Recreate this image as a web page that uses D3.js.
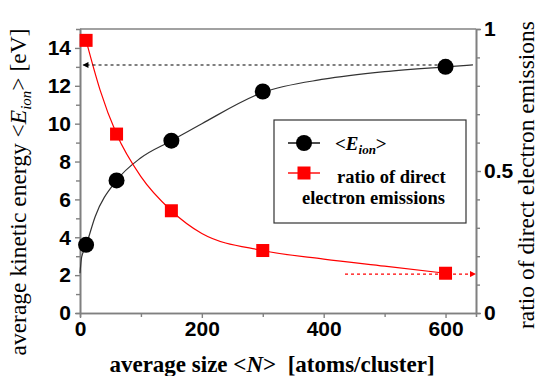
<!DOCTYPE html>
<html>
<head>
<meta charset="utf-8">
<script src="https://cdn.jsdelivr.net/npm/d3@7"></script>
<style>
  html, body { margin: 0; padding: 0; background: #fff; }
  svg { display: block; }
  .tick-label { font-family: "Liberation Sans", Arial, sans-serif; font-weight: bold; font-size: 21px; fill: #000; }
  .title { font-family: "Liberation Serif", "Times New Roman", serif; fill: #000; }
</style>
</head>
<body>
<svg id="chart" width="538" height="376"></svg>
<script>
// Measured points: average cluster size <N>
const sizes = [10, 60, 150, 300, 600];
// Average kinetic energy of ions <E_ion> in eV
const energies = [3.6, 7.0, 9.1, 11.7, 13.0];
// Ratio of direct electron emissions
const ratios = [0.96, 0.63, 0.36, 0.22, 0.14];

// Guide-curve samples for the energy trend
const energyCurveN = [0, 2, 5, 10, 25, 60, 100, 150, 200, 300, 400, 500, 600, 645];
const energyCurveE = [2.1, 2.8, 3.2, 3.6, 5.1, 7.0, 8.2, 9.1, 10.0, 11.65, 12.35, 12.75, 13.0, 13.1];
// Guide-curve samples for the emission-ratio trend
const ratioCurveN = [10, 33, 60, 100, 150, 200, 300, 400, 500, 600];
const ratioCurveR = [0.96, 0.785, 0.63, 0.48, 0.36, 0.28, 0.22, 0.19, 0.165, 0.14];

// Axis ticks
const xMajorTicks = [0, 200, 400, 600];
const xMinorTicks = [100, 300, 500];
const yLeftMajorTicks = [0, 2, 4, 6, 8, 10, 12, 14];
const yLeftMinorTicks = [1, 3, 5, 7, 9, 11, 13];
const yRightMajorTicks = [0, 0.5, 1];
const yRightMinorTicks = [0.1, 0.2, 0.3, 0.4, 0.6, 0.7, 0.8, 0.9];

const svg = d3.select("#chart");
const plot = { left: 80, right: 476, top: 29, bottom: 313 };

const x = d3.scaleLinear().domain([0, 650]).range([plot.left, plot.right]);
const yE = d3.scaleLinear().domain([0, 15]).range([plot.bottom, plot.top]);
const yR = d3.scaleLinear().domain([0, 1]).range([plot.bottom, plot.top]);

const axisColor = "#808080";

// Frame top
svg.append("line")
  .attr("x1", plot.left).attr("x2", plot.right)
  .attr("y1", plot.top).attr("y2", plot.top)
  .attr("stroke", "#444").attr("stroke-width", 1.2);

// Axes
function styleAxis(g) {
  g.select(".domain").attr("stroke", axisColor).attr("stroke-width", 1.6);
  g.selectAll(".tick line").attr("stroke", axisColor).attr("stroke-width", 1.4);
  g.selectAll(".tick text").attr("class", "tick-label").attr("fill", "#000");
}

const gx = svg.append("g").attr("transform", `translate(0,${plot.bottom})`)
  .call(d3.axisBottom(x).tickValues(xMajorTicks).tickSizeInner(5).tickSizeOuter(0).tickPadding(3).tickFormat(d3.format("d")));
styleAxis(gx);
const gxm = svg.append("g").attr("transform", `translate(0,${plot.bottom})`)
  .call(d3.axisBottom(x).tickValues(xMinorTicks).tickSize(4).tickFormat(""));
styleAxis(gxm);

const gyl = svg.append("g").attr("transform", `translate(${plot.left},0)`)
  .call(d3.axisLeft(yE).tickValues(yLeftMajorTicks).tickSizeInner(5).tickSizeOuter(0).tickPadding(4).tickFormat(d3.format("d")));
styleAxis(gyl);
const gylm = svg.append("g").attr("transform", `translate(${plot.left},0)`)
  .call(d3.axisLeft(yE).tickValues(yLeftMinorTicks).tickSize(4).tickFormat(""));
styleAxis(gylm);

const gyr = svg.append("g").attr("transform", `translate(${plot.right},0)`)
  .call(d3.axisRight(yR).tickValues(yRightMajorTicks).tickSizeInner(5).tickSizeOuter(0).tickPadding(3).tickFormat(d => d === 0.5 ? "0.5" : d3.format("d")(d)));
styleAxis(gyr);
const gyrm = svg.append("g").attr("transform", `translate(${plot.right},0)`)
  .call(d3.axisRight(yR).tickValues(yRightMinorTicks).tickSize(4).tickFormat(""));
styleAxis(gyrm);

// Guide curves
const energyLine = d3.line().x(d => x(d[0])).y(d => yE(d[1])).curve(d3.curveMonotoneX);
svg.append("path")
  .datum(energyCurveN.map((n, i) => [n, energyCurveE[i]]))
  .attr("d", energyLine)
  .attr("fill", "none").attr("stroke", "#333").attr("stroke-width", 1.2);

const ratioLine = d3.line().x(d => x(d[0])).y(d => yR(d[1])).curve(d3.curveMonotoneX);
svg.append("path")
  .datum(ratioCurveN.map((n, i) => [n, ratioCurveR[i]]))
  .attr("d", ratioLine)
  .attr("fill", "none").attr("stroke", "#ff0000").attr("stroke-width", 1.2);

// Arrow heads
const defs = svg.append("defs");
function arrowMarker(id, color) {
  defs.append("marker")
    .attr("id", id).attr("viewBox", "0 0 10 10")
    .attr("refX", 9).attr("refY", 5)
    .attr("markerWidth", 7).attr("markerHeight", 6)
    .attr("markerUnits", "userSpaceOnUse")
    .attr("orient", "auto")
    .append("path").attr("d", "M0,0 L10,5 L0,10 Z").attr("fill", color);
}
arrowMarker("arrowBlack", "#000");
arrowMarker("arrowRed", "#ff0000");

// Dashed reference arrow: energy at the largest size, pointing to the left axis
svg.append("line")
  .attr("x1", x(sizes[4]) - 2).attr("x2", x(5))
  .attr("y1", yE(13.1)).attr("y2", yE(13.1))
  .attr("stroke", "#000").attr("stroke-width", 1.1)
  .attr("stroke-dasharray", "3,3")
  .attr("marker-end", "url(#arrowBlack)");

// Dashed reference arrow: ratio at the largest size, pointing to the right axis
svg.append("line")
  .attr("x1", x(435)).attr("x2", x(649))
  .attr("y1", yR(0.137)).attr("y2", yR(0.137))
  .attr("stroke", "#ff0000").attr("stroke-width", 1.1)
  .attr("stroke-dasharray", "3,3")
  .attr("marker-end", "url(#arrowRed)");

// Data markers
svg.append("g").selectAll("circle")
  .data(sizes.map((n, i) => [n, energies[i]]))
  .join("circle")
  .attr("cx", d => x(d[0])).attr("cy", d => yE(d[1]))
  .attr("r", 8).attr("fill", "#000");

const sq = 13;
svg.append("g").selectAll("rect")
  .data(sizes.map((n, i) => [n, ratios[i]]))
  .join("rect")
  .attr("x", d => x(d[0]) - sq / 2).attr("y", d => yR(d[1]) - sq / 2)
  .attr("width", sq).attr("height", sq).attr("fill", "#ff0000");

// Legend
const lg = svg.append("g");
lg.append("rect")
  .attr("x", 274).attr("y", 120).attr("width", 192).attr("height", 103)
  .attr("fill", "#fff").attr("stroke", "#333").attr("stroke-width", 1.2);
lg.append("line").attr("x1", 288).attr("x2", 320).attr("y1", 143).attr("y2", 143)
  .attr("stroke", "#000").attr("stroke-width", 1.4);
lg.append("circle").attr("cx", 304).attr("cy", 143).attr("r", 8).attr("fill", "#000");
lg.append("line").attr("x1", 288).attr("x2", 320).attr("y1", 173).attr("y2", 173)
  .attr("stroke", "#ff0000").attr("stroke-width", 1.4);
lg.append("rect").attr("x", 304 - sq / 2).attr("y", 173 - sq / 2).attr("width", sq).attr("height", sq).attr("fill", "#ff0000");

const lt1 = lg.append("text").attr("class", "title")
  .attr("x", 335).attr("y", 150).style("font-size", "19px").style("font-weight", "bold");
lt1.append("tspan").text("<");
lt1.append("tspan").style("font-style", "italic").text("E");
lt1.append("tspan").style("font-style", "italic").style("font-size", "13px").attr("dy", 4).text("ion");
lt1.append("tspan").attr("dy", -4).text(">");

lg.append("text").attr("class", "title")
  .attr("x", 337).attr("y", 183).style("font-size", "18.5px").style("font-weight", "bold")
  .text("ratio of direct");
lg.append("text").attr("class", "title")
  .attr("x", 302).attr("y", 204).style("font-size", "18.5px").style("font-weight", "bold")
  .text("electron emissions");

// Axis titles
const xt = svg.append("text").attr("class", "title")
  .attr("x", 272).attr("y", 372).attr("text-anchor", "middle")
  .attr("xml:space", "preserve")
  .style("font-size", "23px").style("font-weight", "bold");
xt.append("tspan").text("average size <");
xt.append("tspan").style("font-style", "italic").text("N");
xt.append("tspan").text(">  [atoms/cluster]");

const ylt = svg.append("text").attr("class", "title")
  .attr("transform", "translate(26,192) rotate(-90)")
  .attr("text-anchor", "middle")
  .style("font-size", "23.5px");
ylt.append("tspan").text("average kinetic energy <");
ylt.append("tspan").style("font-style", "italic").text("E");
ylt.append("tspan").style("font-style", "italic").style("font-size", "15px").attr("dy", 5).text("ion");
ylt.append("tspan").attr("dy", -5).text("> [eV]");

svg.append("text").attr("class", "title")
  .attr("transform", "translate(534,175) rotate(-90)")
  .attr("text-anchor", "middle")
  .style("font-size", "23.5px")
  .text("ratio of direct electron emissions");
</script>
</body>
</html>
